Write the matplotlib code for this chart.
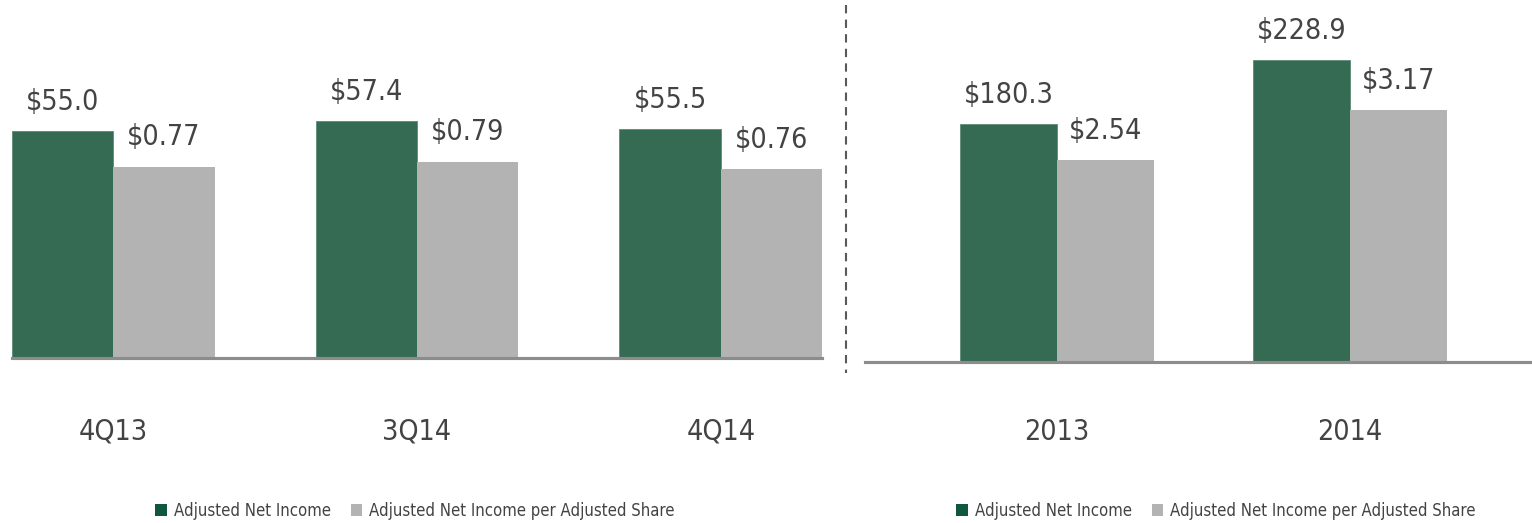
import matplotlib.pyplot as plt
from matplotlib.patches import Patch
from matplotlib.lines import Line2D

plt.rcParams['font.family'] = ['DejaVu Sans']
plt.rcParams['font.stretch'] = 'condensed'

quarters = ['4Q13', '3Q14', '4Q14']
q_income = [55.0, 57.4, 55.5]
q_eps = [0.77, 0.79, 0.76]

years = ['2013', '2014']
y_income = [180.3, 228.9]
y_eps = [2.54, 3.17]

series_names = ['Adjusted Net Income', 'Adjusted Net Income per Adjusted Share']
green = '#356B53'
legend_green = '#11573F'
grey = '#B3B3B4'
text_col = '#434343'
W, H = 1532, 523

fig = plt.figure(figsize=(W / 100, H / 100), dpi=100)


def panel(rect, cats, income, eps, xlim, ylim1, ylim2, width, pad):
    ax = fig.add_axes(rect)
    ax2 = ax.twinx()
    xs = list(range(len(cats)))
    b1 = ax.bar([x - width / 2 for x in xs], income, width, color=green,
                edgecolor='#5E8A76', linewidth=0.6)
    b2 = ax2.bar([x + width / 2 for x in xs], eps, width, color=grey, linewidth=0)
    for r, v in zip(b1, income):
        ax.annotate(f'${v:.1f}', (r.get_x() + r.get_width() / 2, r.get_height()),
                    xytext=(0, 11), textcoords='offset points', ha='center',
                    va='bottom', fontsize=20.5, color=text_col)
    for r, v in zip(b2, eps):
        ax2.annotate(f'${v:.2f}', (r.get_x() + r.get_width() / 2, r.get_height()),
                     xytext=(0, 11), textcoords='offset points', ha='center',
                     va='bottom', fontsize=20.5, color=text_col)
    for a in (ax, ax2):
        a.set_xlim(*xlim)
        for s in ('top', 'left', 'right'):
            a.spines[s].set_visible(False)
        a.spines['bottom'].set_color('#8C8C8C')
        a.spines['bottom'].set_linewidth(2.2)
        a.set_yticks([])
    ax.set_ylim(*ylim1)
    ax2.set_ylim(*ylim2)
    ax.set_xticks(xs)
    ax.set_xticklabels(cats, fontsize=20.5, color=text_col)
    ax.tick_params(axis='x', length=0, pad=pad)
    ax2.tick_params(axis='x', length=0, labelbottom=False)
    return ax


# quarterly panel
panel([12 / W, (H - 358) / H, 810 / W, 358 / H], quarters, q_income, q_eps,
      (-1 / 3, 2 + 1 / 3), (0, 86.7), (0, 1.44), 1 / 3, 43)
# annual panel
panel([865 / W, (H - 362) / H, 667 / W, 362 / H], years, y_income, y_eps,
      (-0.655, 1.621), (0, 274.2), (0, 4.55), 0.33, 40)

# dashed separator
fig.add_artist(Line2D([845.5 / W, 845.5 / W], [1 - 5 / H, 1 - 373 / H],
                      transform=fig.transFigure, color='#595959',
                      linewidth=1.5, dashes=(4, 3)))

handles = [Patch(facecolor=legend_green), Patch(facecolor=grey)]
for cx in (415, 1216):
    fig.legend(handles, series_names, loc='center', ncol=2,
               bbox_to_anchor=(cx / W, 12 / H), frameon=False, fontsize=12,
               handlelength=0.7, handleheight=0.7, handletextpad=0.4,
               columnspacing=1.2, labelcolor=text_col)

plt.savefig('out.png', dpi=100)
